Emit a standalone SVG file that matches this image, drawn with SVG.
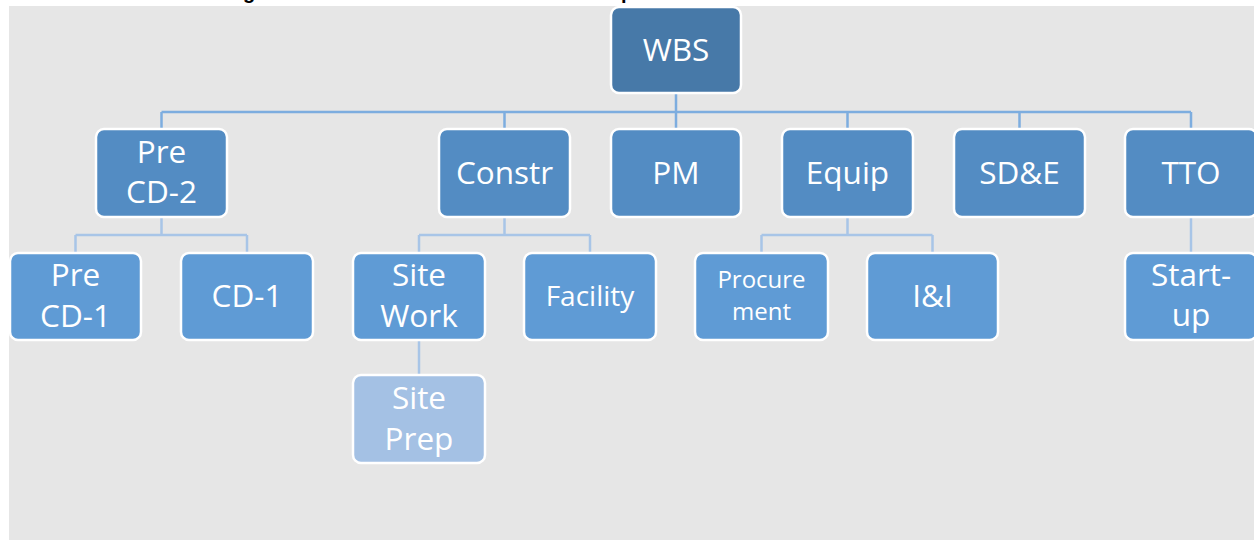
<svg xmlns="http://www.w3.org/2000/svg" width="1254" height="540" viewBox="0 0 1254 540">
  <style>
    .box { stroke: #ffffff; stroke-width: 2.5; }
    .l1 { fill: #4779A8; }
    .l2 { fill: #538CC3; }
    .l3 { fill: #5F9BD5; }
    .l4 { fill: #A4C1E4; }
    .lbl { fill: #ffffff; font-family: "Open Sans", "Liberation Sans", sans-serif; font-size: 31.5px; text-anchor: middle; }
    .main { fill: none; stroke: #7DADDF; stroke-width: 2.5; }
    .sub { fill: none; stroke: #A8C5E7; stroke-width: 2.5; }
    .cap { fill: #000000; font-family: "Liberation Sans", sans-serif; font-weight: bold; font-size: 20px; }
  </style>

  <!-- page and canvas -->
  <rect x="0" y="0" width="1254" height="540" fill="#ffffff"/>
  <text class="cap" x="243" y="-1">g</text>
  <text class="cap" x="621" y="-1">p</text>
  <rect x="9" y="6" width="1245" height="534" fill="#E6E6E6"/>

  <!-- connectors -->
  <g id="connectors">
    <path class="main" d="M676 93 V112 M161.5 112 H1191 M161.5 112 V129 M504.5 112 V129 M676 112 V129 M847.5 112 V129 M1019.5 112 V129 M1191 112 V129"/>
    <path class="sub" d="M161.5 217 V235 M75.5 235 H247 M75.5 235 V253 M247 235 V253"/>
    <path class="sub" d="M504.5 217 V235 M419 235 H590 M419 235 V253 M590 235 V253"/>
    <path class="sub" d="M847.5 217 V235 M761.5 235 H932.5 M761.5 235 V253 M932.5 235 V253"/>
    <path class="sub" d="M1191 217 V253"/>
    <path class="sub" d="M419 340 V375"/>
  </g>

  <!-- root -->
  <g id="wbs">
    <rect class="box l1" x="611" y="7" width="130" height="86" rx="8"/>
    <text class="lbl" x="676" y="61">WBS</text>
  </g>

  <!-- second level -->
  <g id="pre-cd2">
    <rect class="box l2" x="96" y="129" width="131" height="88" rx="8"/>
    <text class="lbl" x="161.5" y="163">Pre</text>
    <text class="lbl" x="161.5" y="203">CD-2</text>
  </g>
  <g id="constr">
    <rect class="box l2" x="439" y="129" width="131" height="88" rx="8"/>
    <text class="lbl" x="504.5" y="184">Constr</text>
  </g>
  <g id="pm">
    <rect class="box l2" x="611" y="129" width="130" height="88" rx="8"/>
    <text class="lbl" x="676" y="184">PM</text>
  </g>
  <g id="equip">
    <rect class="box l2" x="782" y="129" width="131" height="88" rx="8"/>
    <text class="lbl" x="847.5" y="184">Equip</text>
  </g>
  <g id="sde">
    <rect class="box l2" x="954" y="129" width="131" height="88" rx="8"/>
    <text class="lbl" x="1019.5" y="184">SD&amp;E</text>
  </g>
  <g id="tto">
    <rect class="box l2" x="1125" y="129" width="132" height="88" rx="8"/>
    <text class="lbl" x="1191" y="184">TTO</text>
  </g>

  <!-- third level -->
  <g id="pre-cd1">
    <rect class="box l3" x="10" y="253" width="131" height="87" rx="8"/>
    <text class="lbl" x="75.5" y="286">Pre</text>
    <text class="lbl" x="75.5" y="327">CD-1</text>
  </g>
  <g id="cd1">
    <rect class="box l3" x="181" y="253" width="132" height="87" rx="8"/>
    <text class="lbl" x="247" y="307">CD-1</text>
  </g>
  <g id="site-work">
    <rect class="box l3" x="353" y="253" width="132" height="87" rx="8"/>
    <text class="lbl" x="419" y="286">Site</text>
    <text class="lbl" x="419" y="327">Work</text>
  </g>
  <g id="facility">
    <rect class="box l3" x="524" y="253" width="132" height="87" rx="8"/>
    <text class="lbl" x="590" y="306" style="font-size:28px">Facility</text>
  </g>
  <g id="procurement">
    <rect class="box l3" x="695" y="253" width="133" height="87" rx="8"/>
    <text class="lbl" x="761.5" y="288" style="font-size:24px">Procure</text>
    <text class="lbl" x="761.5" y="320" style="font-size:24px">ment</text>
  </g>
  <g id="i-and-i">
    <rect class="box l3" x="867" y="253" width="131" height="87" rx="8"/>
    <text class="lbl" x="932.5" y="307">I&amp;I</text>
  </g>
  <g id="start-up">
    <rect class="box l3" x="1125" y="253" width="132" height="87" rx="8"/>
    <text class="lbl" x="1191" y="286">Start-</text>
    <text class="lbl" x="1191" y="326">up</text>
  </g>

  <!-- fourth level -->
  <g id="site-prep">
    <rect class="box l4" x="353" y="375" width="132" height="88" rx="8"/>
    <text class="lbl" x="419" y="409">Site</text>
    <text class="lbl" x="419" y="450">Prep</text>
  </g>
</svg>
